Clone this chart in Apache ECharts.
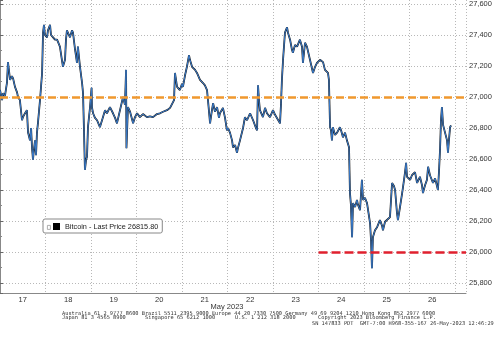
<!DOCTYPE html>
<html>
<head>
<meta charset="utf-8">
<script src="https://cdn.jsdelivr.net/npm/echarts@6/dist/echarts.min.js"></script>
<style>html,body{margin:0;padding:0;background:#fff}#c{width:500px;height:340px}</style>
</head>
<body>
<div id="c"></div>
<script>
// hours since 17 May 2023 00:00
const hours = [0,1.1,1.6,2.6,3.7,4.2,4.7,5.3,6.3,6.9,7.9,9.0,9.5,10.5,11.6,12.1,13.2,14.2,14.8,15.8,16.4,16.9,17.4,17.9,18.5,19.0,19.5,20.0,21.1,22.2,22.7,23.2,23.7,24.8,25.3,26.4,26.9,28.0,29.0,30.1,31.6,33.2,34.3,34.8,35.3,36.4,36.9,38.0,38.5,39.6,40.6,41.1,42.2,43.3,43.8,44.3,44.8,45.4,45.9,46.4,46.9,47.5,48.3,48.5,49.1,50.1,51.2,52.7,54.3,55.4,56.4,58.0,59.6,60.7,61.7,63.3,64.9,65.9,66.5,66.7,67.5,68.6,69.6,70.2,71.2,72.3,73.8,75.4,77.5,79.1,80.7,82.8,84.4,86.0,88.1,89.7,90.7,91.8,92.3,93.4,94.9,96.0,96.5,97.6,98.6,99.7,100.2,101.3,102.9,103.9,105.5,107.1,108.1,109.2,109.7,110.8,111.8,112.4,113.4,114.5,115.5,116.0,117.6,118.7,119.7,120.3,121.3,122.4,122.9,124.0,125.0,125.5,126.6,128.2,129.2,130.3,131.9,133.5,135.0,135.6,136.1,136.6,137.1,138.7,139.8,140.8,142.4,144.0,145.1,146.1,147.7,148.2,148.7,149.3,150.3,151.4,151.9,153.0,154.0,154.5,155.6,156.7,158.2,159.3,159.8,160.9,161.9,163.5,165.1,166.2,167.2,168.8,170.4,171.4,173.0,173.5,174.1,174.6,175.1,175.6,176.7,177.8,179.3,179.9,180.9,182.0,183.0,184.1,184.6,185.1,185.7,186.2,187.3,188.3,188.8,189.9,190.9,191.5,192.5,193.6,195.2,195.7,196.2,196.7,197.8,198.9,200.4,201.5,202.0,203.1,204.1,205.7,206.8,207.8,208.4,209.4,209.9,211.0,212.0,212.6,213.6,214.2,214.7,216.3,217.3,217.8,218.9,220.0,221.5,222.6,223.1,224.2,225.2,225.8,226.8,228.4,229.5,230.5,231.0,231.6,232.1,232.6,233.1,233.7,234.7,235.8,236.3,236.8,237.4,237.9];
const prices = [27045,26980,27025,27005,27095,27225,27175,27110,27135,27120,27065,27030,27000,26980,26850,26870,26895,26915,26770,26720,26800,26670,26595,26660,26720,26625,26770,26830,26980,27155,27415,27465,27400,27385,27430,27465,27400,27385,27370,27370,27325,27195,27240,27370,27430,27400,27385,27430,27415,27305,27220,27325,27195,27090,27025,26785,26530,26595,26615,26805,26865,26935,27060,26935,26895,26865,26850,26805,26870,26915,26895,26935,26895,26865,26830,26915,27000,26950,27175,26670,26935,26905,26915,26830,26870,26895,26870,26890,26870,26875,26870,26890,26895,26905,26915,26930,26935,26980,27155,27065,27045,27085,27065,27140,27195,27270,27240,27195,27175,27155,27110,27090,27075,27045,26980,26830,26915,26960,26905,26935,26865,26895,26930,26865,26785,26800,26770,26720,26675,26690,26640,26670,26720,26800,26870,26850,26895,26850,26800,26785,27075,26980,26915,26870,26930,26895,26870,26915,26885,26895,26830,26950,27110,27240,27415,27450,27415,27370,27305,27285,27335,27325,27370,27325,27220,27350,27325,27240,27155,27195,27220,27240,27225,27175,27155,27110,26805,26785,26720,26805,26755,26770,26805,26785,26740,26770,26720,26675,26380,26305,26095,26315,26290,26335,26305,26270,26465,26335,26350,26315,26185,26075,25895,26095,26140,26160,26205,26170,26140,26195,26205,26225,26445,26425,26400,26250,26205,26290,26370,26420,26510,26575,26485,26465,26495,26485,26515,26445,26485,26430,26380,26430,26465,26550,26495,26445,26475,26485,26400,26530,26660,26850,26935,26820,26830,26720,26640,26720,26805,26815.8];
const dayLabels = ['17','18','19','20','21','22','23','24','25','26'];
const lastPrice = 26815.80;
const refHigh = 27000;
const refLow = 26000;
const refLowStart = 168; // 24 May 00:00
const seriesName = 'Bitcoin - Last Price 26815.80';

const data = hours.map((h, i) => [h, prices[i]]);
const xMax = 245.8;
const labelPos = dayLabels.map((d, i) => i * 24 + 12);

const chart = echarts.init(document.getElementById('c'), null, {renderer: 'canvas'});
const foot = {fontFamily: 'DejaVu Sans Mono', fontSize: 5.3, fill: '#333'};
chart.setOption({
  animation: false,
  backgroundColor: '#fff',
  grid: {left: 0, right: 34, top: 0, bottom: 47},
  legend: {
    show: true,
    data: [{name: seriesName, itemStyle: {color: '#000'}}],
    left: 43, top: 219,
    orient: 'horizontal',
    icon: 'rect', itemWidth: 7, itemHeight: 7,
    padding: [4, 4, 3, 10],
    backgroundColor: '#fff', borderColor: '#888', borderWidth: 1, borderRadius: 2,
    textStyle: {fontFamily: 'Liberation Sans', fontSize: 7.3, color: '#222'}
  },
  xAxis: {
    type: 'value', min: 0, max: xMax, interval: 24,
    axisLine: {show: true, lineStyle: {color: '#888', width: 1}},
    axisTick: {show: false},
    splitLine: {show: true, lineStyle: {color: '#b8b8b8', type: [1, 2], width: 1}},
    axisLabel: {
      customValues: labelPos,
      formatter: v => dayLabels[Math.floor(v / 24)] || '',
      fontFamily: 'Liberation Sans', fontSize: 7.5, color: '#333', margin: 3
    }
  },
  yAxis: {
    type: 'value', position: 'right', min: 25735, max: 27626, splitNumber: 9,
    axisLine: {show: true, lineStyle: {color: '#888', width: 1}},
    axisTick: {show: true, length: 3, inside: false, lineStyle: {color: '#666'}},
    minorTick: {show: true, splitNumber: 2, length: 2, lineStyle: {color: '#888'}},
    splitLine: {show: true, showMinLine: false, showMaxLine: false, lineStyle: {color: '#b8b8b8', type: [1, 2], width: 1}},
    axisLabel: {showMinLabel: false, showMaxLabel: false, fontFamily: 'Liberation Sans', fontSize: 7.5, color: '#333', margin: 3}
  },
  series: [
    {
      name: seriesName + ' ', type: 'line', data: data, showSymbol: false, symbol: 'none',
      lineStyle: {color: '#1a1a1a', width: 1.8}, z: 2, silent: true
    },
    {
      name: seriesName, type: 'line', data: data, showSymbol: false, symbol: 'none',
      color: '#000',
      lineStyle: {color: '#3a7ccc', width: 1}, z: 3, silent: true,
      markLine: {
        silent: true, symbol: ['none', 'none'], animation: false,
        data: [
          {yAxis: refHigh, lineStyle: {color: '#f0982e', width: 2.6, type: [8, 4]}, label: {show: false}},
          [{coord: [refLowStart, refLow], lineStyle: {color: '#e0202e', width: 2.6, type: [9, 4]}, label: {show: false}}, {coord: [xMax, refLow]}],
          {yAxis: lastPrice, lineStyle: {width: 0, opacity: 0},
            label: {show: true, position: 'end', distance: 2, formatter: '26815.80', color: '#fff', backgroundColor: '#000',
              fontFamily: 'Liberation Sans', fontSize: 7.5, padding: [2, 2, 1, 2]}}
        ]
      }
    }
  ],
  graphic: [
    {type: 'rect', left: 47, top: 225, shape: {width: 3, height: 4}, style: {fill: '#fff', stroke: '#999', lineWidth: 0.8}, z: 100},
    {type: 'text', x: 227, y: 303, style: {text: 'May 2023', fontFamily: 'Liberation Sans', fontSize: 7.5, fill: '#333', textAlign: 'center'}},
    {type: 'text', x: 62, y: 311, style: Object.assign({text: 'Australia 61 2 9777 8600 Brazil 5511 2395 9000 Europe 44 20 7330 7500 Germany 49 69 9204 1210 Hong Kong 852 2977 6000'}, foot)},
    {type: 'text', x: 62, y: 315.5, style: Object.assign({text: 'Japan 81 3 4565 8900'}, foot)},
    {type: 'text', x: 145, y: 315.5, style: Object.assign({text: 'Singapore 65 6212 1000'}, foot)},
    {type: 'text', x: 235, y: 315.5, style: Object.assign({text: 'U.S. 1 212 318 2000'}, foot)},
    {type: 'text', x: 318, y: 315.5, style: Object.assign({text: 'Copyright 2023 Bloomberg Finance L.P.'}, foot)},
    {type: 'text', x: 312, y: 321, style: Object.assign({text: 'SN 147833 PDT  GMT-7:00 H968-355-167 26-May-2023 12:46:29'}, foot)}
  ]
});
</script>
</body>
</html>
